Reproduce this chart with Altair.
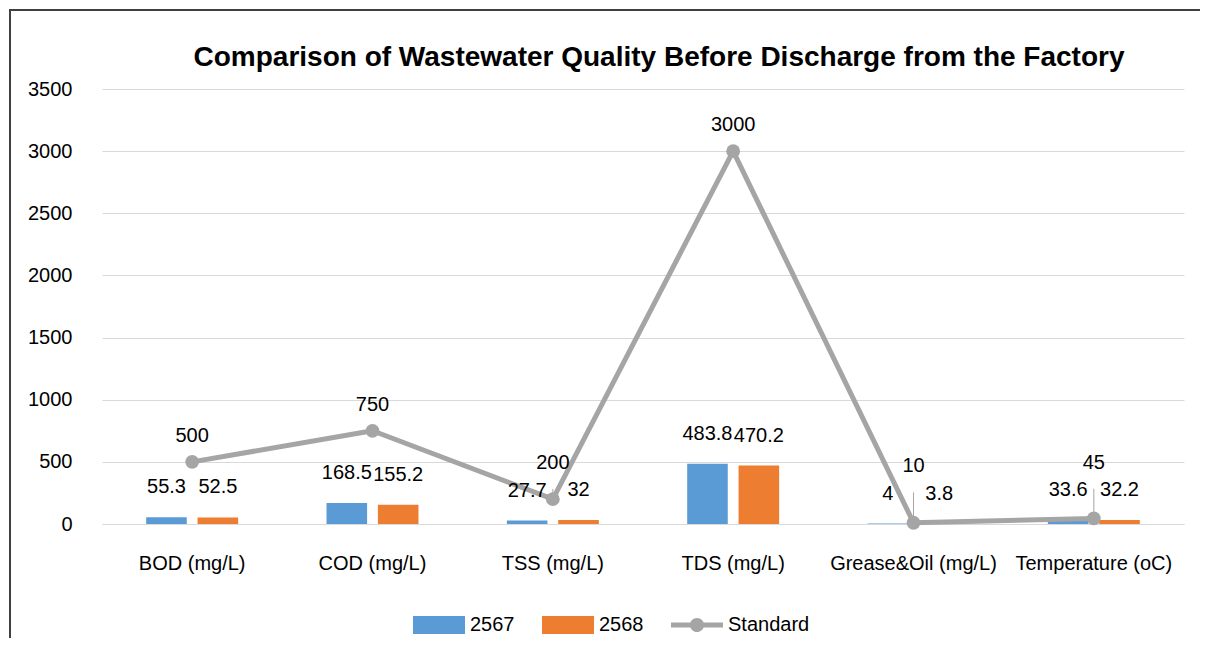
import altair as alt
import pandas as pd

# ---- data ----
categories = ["BOD (mg/L)", "COD (mg/L)", "TSS (mg/L)", "TDS (mg/L)",
              "Grease&Oil (mg/L)", "Temperature (oC)"]
values_2567 = [55.3, 168.5, 27.7, 483.8, 4, 33.6]
values_2568 = [52.5, 155.2, 32, 470.2, 3.8, 32.2]
standard = [500, 750, 200, 3000, 10, 45]
series_names = ["2567", "2568", "Standard"]
y_ticks = [0, 500, 1000, 1500, 2000, 2500, 3000, 3500]
title_text = "Comparison of Wastewater Quality Before Discharge from the Factory"

FONT = "Liberation Sans"
BLUE, ORANGE, GRAY = "#5B9BD5", "#ED7D31", "#A5A5A5"
GRID = "#D9D9D9"


def fmt(v):
    return f"{v:g}"


bars_df = pd.DataFrame(
    [{"cat": c, "series": "2567", "value": v, "label": fmt(v)} for c, v in zip(categories, values_2567)]
    + [{"cat": c, "series": "2568", "value": v, "label": fmt(v)} for c, v in zip(categories, values_2568)]
)
std_df = pd.DataFrame({"cat": categories, "series": "Standard", "value": standard,
                       "label": [fmt(v) for v in standard],
                       "v2567": values_2567, "v2568": values_2568})
legend_df = pd.DataFrame({"series": series_names, "value": [None, None, None]})
frame_df = pd.DataFrame({"a": [0]})

x_scale = alt.Scale(domain=categories, paddingInner=0.49, paddingOuter=0.245)
y_scale = alt.Scale(domain=[0, 3500], nice=False)
color_scale = alt.Scale(domain=series_names, range=[BLUE, ORANGE, GRAY])

rect_path = "M-1,-0.35H1V0.35H-1Z"
line_path = ("M-1,-0.1H1V0.1H-1Z "
             "M-0.27,0A0.27,0.27 0 1,1 0.27,0A0.27,0.27 0 1,1 -0.27,0Z")
shape_scale = alt.Scale(domain=series_names, range=[rect_path, rect_path, line_path])

x_axis = alt.Axis(title=None, labelAngle=0, labelFontSize=20, labelFont=FONT,
                  labelColor="#000000", labelPadding=29, ticks=False, tickSize=0,
                  domain=True, domainColor=GRID, domainWidth=1, grid=False,
                  labelOverlap=False, labelLimit=400, labelBaseline="top")
y_axis = alt.Axis(title=None, values=y_ticks, format="d", labelFontSize=20,
                  labelFont=FONT, labelColor="#000000", labelPadding=30,
                  ticks=False, tickSize=0, domain=False, grid=True,
                  gridColor=GRID, gridWidth=1)

X = alt.X("cat:N", sort=categories, scale=x_scale, axis=x_axis)
Y = alt.Y("value:Q", scale=y_scale, axis=y_axis)

leg = alt.Legend(title=None, orient="none", legendX=311, legendY=510,
                 direction="horizontal", symbolSize=2704, symbolStrokeWidth=0,
                 labelFontSize=20, labelFont=FONT, labelColor="#000000",
                 labelOffset=5, columnPadding=27, padding=0, symbolOpacity=1)

frame = alt.Chart(frame_df).mark_rect(
    fill="transparent", stroke="#404040", strokeWidth=2
).encode(
    x=alt.value(-92), x2=alt.value(3000), y=alt.value(-79), y2=alt.value(3000)
)

x_off = alt.XOffset("series:N", sort=["2567", "2568"],
                    scale=alt.Scale(paddingInner=0.21, paddingOuter=0))

bars = alt.Chart(bars_df).mark_bar().encode(
    x=X,
    xOffset=x_off,
    y=Y,
    color=alt.Color("series:N", scale=color_scale, legend=leg),
)

bar_text = alt.Chart(bars_df).mark_text(
    dy=-30, fontSize=20, font=FONT, color="#000000", baseline="middle"
).encode(x=X, xOffset=x_off, y=Y, text="label:N")

# Standard labels are lifted above the bar labels when the point sits low,
# with a thin leader line back to the point (as in the reference).
std_base = alt.Chart(std_df).transform_calculate(
    anchor="max(datum.value, max(datum.v2567, datum.v2568) + 250)"
)

leaders = std_base.transform_filter("datum.anchor > datum.value").mark_rule(
    color=GRAY, strokeWidth=1
).encode(x=X, y=Y, y2="anchor:Q")

line = alt.Chart(std_df).mark_line(
    color=GRAY, strokeWidth=5, strokeJoin="round",
    point=alt.OverlayMarkDef(filled=True, size=190, color=GRAY, opacity=1),
).encode(x=X, y=Y)

line_text = std_base.mark_text(
    dy=-26, fontSize=20, font=FONT, color="#000000", baseline="middle"
).encode(x=X, y=alt.Y("anchor:Q", scale=y_scale, axis=y_axis), text="label:N")

legend_layer = alt.Chart(legend_df).mark_point(filled=True).encode(
    y=alt.Y("value:Q", scale=y_scale, axis=y_axis),
    color=alt.Color("series:N", scale=color_scale, legend=leg),
    shape=alt.Shape("series:N", scale=shape_scale, legend=leg),
)

chart = alt.layer(frame, bars, leaders, line, bar_text, line_text, legend_layer).properties(
    width=1082,
    height=435,
    padding={"left": 94, "top": 81, "right": 16, "bottom": 114},
    autosize=alt.AutoSizeParams(type="none"),
    title=alt.TitleParams(text=title_text, font=FONT, fontSize=28, fontWeight="bold",
                          color="#000000", anchor="middle", frame="group",
                          baseline="alphabetic", offset=-85, dx=16),
    background="white",
).configure_view(strokeWidth=0)

chart.save("out.html", embed_options={"renderer": "svg", "actions": False})
